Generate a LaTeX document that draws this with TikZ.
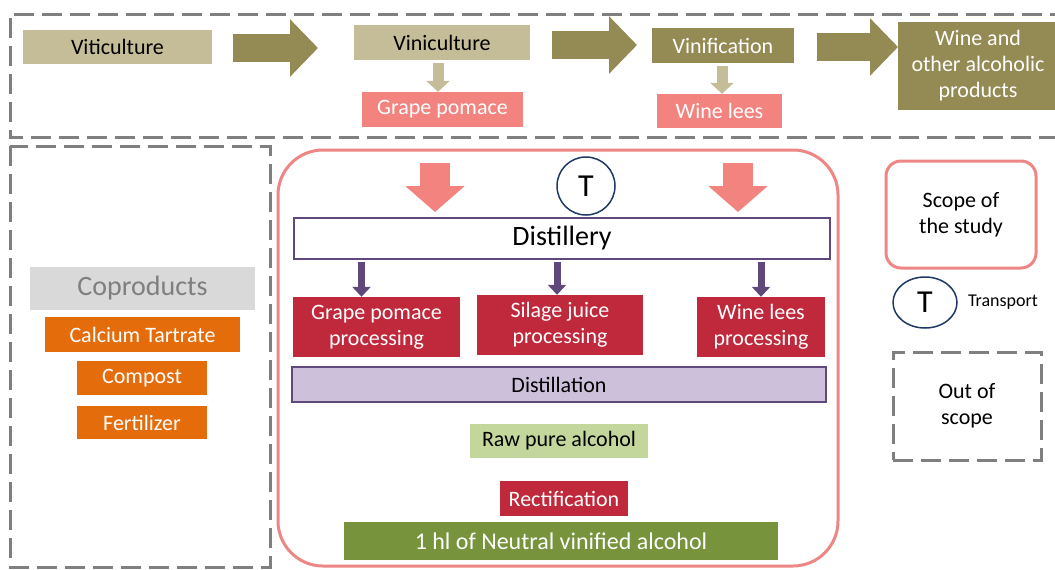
\documentclass[tikz,border=0pt]{standalone}
\usepackage{fontspec}
\setmainfont{Carlito}
\usetikzlibrary{arrows.meta,shapes.geometric}
\definecolor{tan}{HTML}{C4BD97}
\definecolor{olive}{HTML}{948A54}
\definecolor{salmon}{HTML}{F2837F}
\definecolor{crimson}{HTML}{C0283C}
\definecolor{purp}{HTML}{5F497A}
\definecolor{lav}{HTML}{CCC0DA}
\definecolor{lgreen}{HTML}{C3D69B}
\definecolor{dgreen}{HTML}{77933C}
\definecolor{orng}{HTML}{E46C0A}
\definecolor{lgray}{HTML}{D9D9D9}
\definecolor{tgray}{HTML}{7F7F7F}
\definecolor{navy}{HTML}{1F3864}
\definecolor{scopepink}{HTML}{EE8686}
\tikzset{
  box/.style={inner sep=0pt, align=center, font=\fontsize{22}{26}\selectfont},
  dashbox/.style={draw=tgray, line width=3pt, dash pattern=on 20pt off 8pt},
  bigarrow/.style={draw=olive, line width=28pt, -{Triangle[width=56pt,length=28pt]}},
  tanarrow/.style={draw=tan, line width=11pt, -{Triangle[width=23pt,length=11pt]}},
  pinkarrow/.style={draw=salmon, line width=30pt, -{Triangle[width=58pt,length=26pt]}},
  purparrow/.style={draw=purp, line width=7pt, -{Triangle[width=18pt,length=10pt]}},
}
\begin{document}
\begin{tikzpicture}[x=1pt,y=-1pt]
\useasboundingbox (0,0) rectangle (1055,570);
% dashed regions
\draw[dashbox] (1070,14) -- (10,14) -- (10,137) -- (1070,137);
\draw[dashbox] (10,146) rectangle (270,567);
% top row
\node[box, fill=tan, minimum width=189pt, minimum height=34pt] (vit) at (117.5,47) {Viticulture};
\node[box, fill=tan, minimum width=176pt, minimum height=35pt] (vin) at (442,42.5) {Viniculture};
\node[box, fill=salmon, text=white, minimum width=161pt, minimum height=35pt] (gp) at (442.5,109.5) {Grape pomace};
\node[box, fill=olive, text=white, minimum width=142pt, minimum height=35pt] (vinif) at (723,45.5) {Vinification};
\node[box, fill=salmon, text=white, minimum width=125pt, minimum height=34pt] (wl) at (719.5,111) {Wine lees};
\node[box, fill=olive, text=white, minimum width=160pt, minimum height=88pt] (wine) at (978,66) {Wine and\\other alcoholic\\products};
\coordinate (a1s) at (233,48); \coordinate (a1e) at (318,48);
\coordinate (a2s) at (552,45); \coordinate (a2e) at (637,45);
\coordinate (a3s) at (817,47); \coordinate (a3e) at (898,47);
\draw[bigarrow] (a1s) -- (a1e);
\draw[bigarrow] (a2s) -- (a2e);
\draw[bigarrow] (a3s) -- (a3e);
\draw[tanarrow] ([yshift=-3pt]vin.south -| 438,0) -- (gp.north -| 438,0);
\draw[tanarrow] ([yshift=-3pt]vinif.south -| 722,0) -- (wl.north -| 722,0);
% coproducts
\node[box, fill=lgray, text=tgray, minimum width=225pt, minimum height=43pt, font=\fontsize{28}{30}\selectfont] (cop) at (142.5,288.5) {Coproducts};
\node[box, fill=orng, text=white, minimum width=195pt, minimum height=35pt] (ct) at (142.5,334.5) {Calcium Tartrate};
\node[box, fill=orng, text=white, minimum width=130pt, minimum height=34pt] (comp) at (142,378) {Compost};
\node[box, fill=orng, text=white, minimum width=130pt, minimum height=33pt] (fert) at (142,422.5) {Fertilizer};
% scope
\draw[draw=scopepink, line width=3pt, rounded corners=45pt] (278,150) rectangle (838,566);
\node[draw=navy, line width=1.5pt, circle, minimum size=58pt, inner sep=0pt, font=\fontsize{32}{32}\selectfont] (t) at (586,186) {T};
\node[box, draw=purp, line width=2pt, fill=white, minimum width=536pt, minimum height=41pt, font=\fontsize{28}{30}\selectfont] (dist) at (562,238.5) {Distillery};
\coordinate (p1s) at (435,163); \coordinate (p1e) at (435,212);
\coordinate (p2s) at (738,163); \coordinate (p2e) at (738,212);
\draw[pinkarrow] (p1s) -- (p1e);
\draw[pinkarrow] (p2s) -- (p2e);
\node[box, fill=crimson, text=white, minimum width=167pt, minimum height=60pt] (gpp) at (376.5,327) {Grape pomace\\processing};
\node[box, fill=crimson, text=white, minimum width=166pt, minimum height=60pt] (sjp) at (560,325) {Silage juice\\processing};
\node[box, fill=crimson, text=white, minimum width=128pt, minimum height=60pt] (wlp) at (761,327) {Wine lees\\processing};
\draw[purparrow] ([yshift=-2pt]dist.south -| gpp.north) ++(-15pt,0) coordinate (q1) -- (q1 |- gpp.north);
\draw[purparrow] ([yshift=-2pt]dist.south -| sjp.north) ++(-3pt,0) coordinate (q2) -- (q2 |- sjp.north);
\draw[purparrow] ([yshift=-2pt]dist.south -| wlp.north) coordinate (q3) -- (q3 |- wlp.north);
\node[box, draw=purp, line width=2pt, fill=lav, minimum width=534pt, minimum height=35pt] (dl) at (559,384.5) {Distillation};
\node[box, fill=lgreen, minimum width=178pt, minimum height=34pt] (raw) at (559,441) {Raw pure alcohol};
\node[box, fill=crimson, text=white, minimum width=128pt, minimum height=35pt] (rect) at (564,498.5) {Rectification};
\node[box, fill=dgreen, text=white, minimum width=434pt, minimum height=38pt, font=\fontsize{24}{26}\selectfont] (nva) at (561,541) {1 hl of Neutral vinified alcohol};
% legend
\node[box, draw=scopepink, line width=3pt, rounded corners=15pt, minimum width=150pt, minimum height=107pt] (lscope) at (961,214.5) {Scope of\\the study};
\node[draw=navy, line width=1.5pt, ellipse, minimum width=64pt, minimum height=51pt, inner sep=0pt, font=\fontsize{32}{32}\selectfont] (lt) at (925,302.5) {T};
\node[box, font=\fontsize{18}{20}\selectfont] (ltxt) at (1003,302) {Transport};
\node[box, dashbox, minimum width=148pt, minimum height=108pt] (lout) at (967,406) {Out of\\scope};
\end{tikzpicture}
\end{document}
